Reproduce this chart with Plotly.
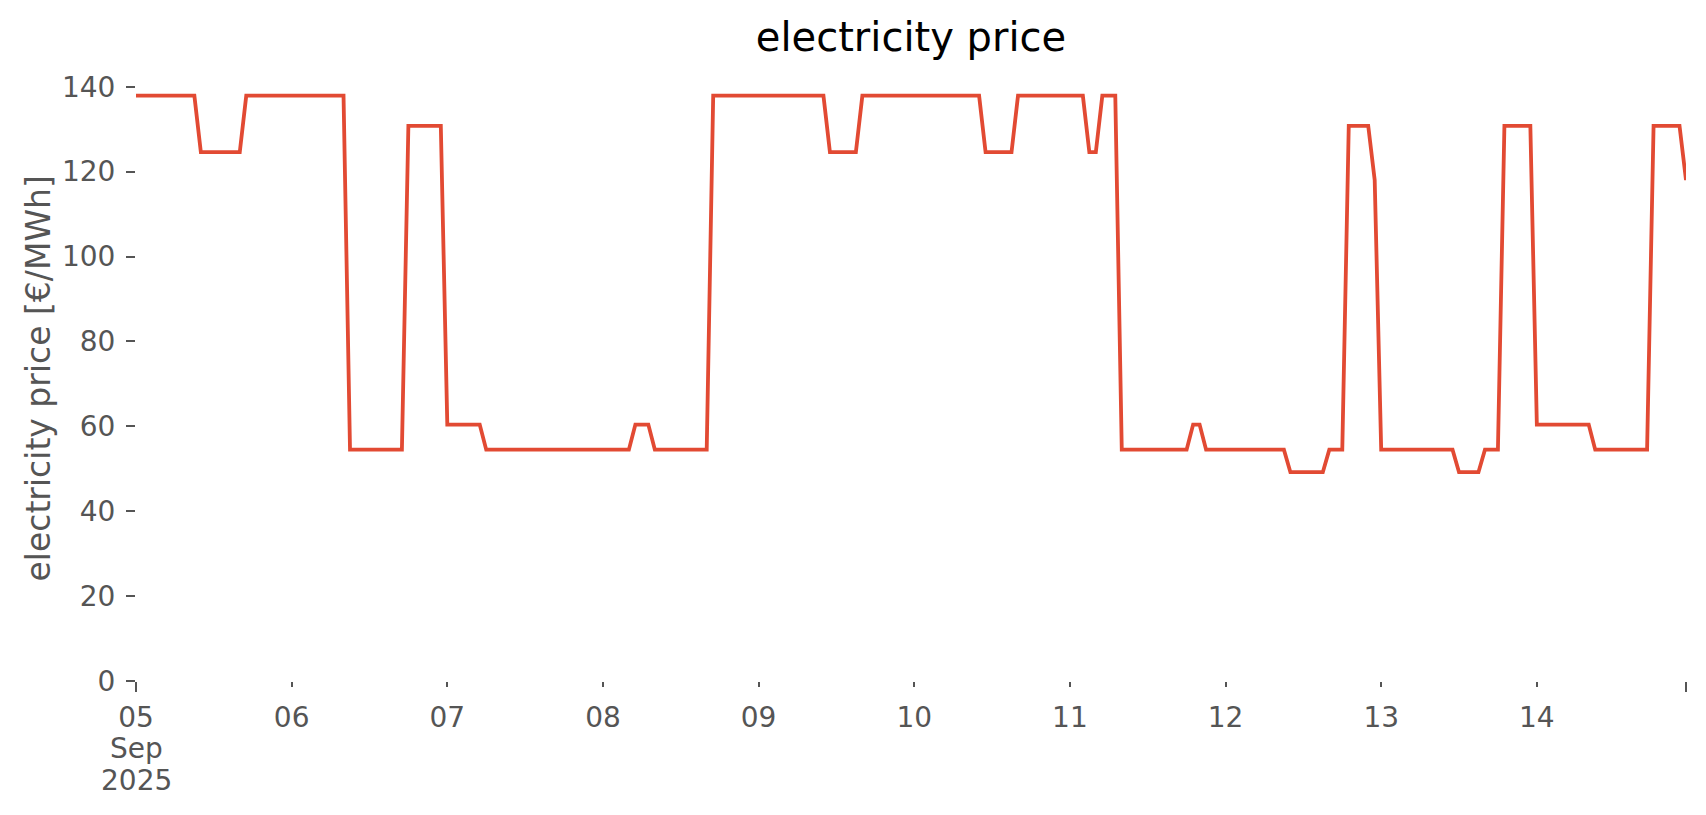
import pandas as pd
import plotly.graph_objects as go

# Hourly day-ahead electricity price [€/MWh], one list per day (00:00 ... 23:00)
day05 = [137.9, 137.9, 137.9, 137.9, 137.9, 137.9, 137.9, 137.9, 137.9, 137.9, 124.6, 124.6,
         124.6, 124.6, 124.6, 124.6, 124.6, 137.9, 137.9, 137.9, 137.9, 137.9, 137.9, 137.9]
day06 = [137.9, 137.9, 137.9, 137.9, 137.9, 137.9, 137.9, 137.9, 137.9, 54.5, 54.5, 54.5,
         54.5, 54.5, 54.5, 54.5, 54.5, 54.5, 130.8, 130.8, 130.8, 130.8, 130.8, 130.8]
day07 = [60.4, 60.4, 60.4, 60.4, 60.4, 60.4, 54.5, 54.5, 54.5, 54.5, 54.5, 54.5,
         54.5, 54.5, 54.5, 54.5, 54.5, 54.5, 54.5, 54.5, 54.5, 54.5, 54.5, 54.5]
day08 = [54.5, 54.5, 54.5, 54.5, 54.5, 60.4, 60.4, 60.4, 54.5, 54.5, 54.5, 54.5,
         54.5, 54.5, 54.5, 54.5, 54.5, 137.9, 137.9, 137.9, 137.9, 137.9, 137.9, 137.9]
day09 = [137.9, 137.9, 137.9, 137.9, 137.9, 137.9, 137.9, 137.9, 137.9, 137.9, 137.9, 124.6,
         124.6, 124.6, 124.6, 124.6, 137.9, 137.9, 137.9, 137.9, 137.9, 137.9, 137.9, 137.9]
day10 = [137.9, 137.9, 137.9, 137.9, 137.9, 137.9, 137.9, 137.9, 137.9, 137.9, 137.9, 124.6,
         124.6, 124.6, 124.6, 124.6, 137.9, 137.9, 137.9, 137.9, 137.9, 137.9, 137.9, 137.9]
day11 = [137.9, 137.9, 137.9, 124.6, 124.6, 137.9, 137.9, 137.9, 54.5, 54.5, 54.5, 54.5,
         54.5, 54.5, 54.5, 54.5, 54.5, 54.5, 54.5, 60.4, 60.4, 54.5, 54.5, 54.5]
day12 = [54.5, 54.5, 54.5, 54.5, 54.5, 54.5, 54.5, 54.5, 54.5, 54.5, 49.2, 49.2,
         49.2, 49.2, 49.2, 49.2, 54.5, 54.5, 54.5, 130.8, 130.8, 130.8, 130.8, 118.0]
day13 = [54.5, 54.5, 54.5, 54.5, 54.5, 54.5, 54.5, 54.5, 54.5, 54.5, 54.5, 54.5,
         49.2, 49.2, 49.2, 49.2, 54.5, 54.5, 54.5, 130.8, 130.8, 130.8, 130.8, 130.8]
day14 = [60.4, 60.4, 60.4, 60.4, 60.4, 60.4, 60.4, 60.4, 60.4, 54.5, 54.5, 54.5,
         54.5, 54.5, 54.5, 54.5, 54.5, 54.5, 130.8, 130.8, 130.8, 130.8, 130.8, 118.0]

price = day05 + day06 + day07 + day08 + day09 + day10 + day11 + day12 + day13 + day14
times = pd.date_range("2025-09-05 00:00", periods=len(price), freq="h")

day_ticks = pd.date_range("2025-09-05", "2025-09-14", freq="D")
day_labels = ["05", "06", "07", "08", "09", "10", "11", "12", "13", "14"]
y_ticks = [0, 20, 40, 60, 80, 100, 120, 140]

FONT = "DejaVu Sans"
GREY = "#555555"
RED = "#E24A33"

fig = go.Figure()
fig.add_trace(go.Scatter(
    x=times, y=price, mode="lines",
    line=dict(color=RED, width=3.8),
    hoverinfo="x+y", showlegend=False,
))

fig.update_layout(
    width=1706, height=815,
    margin=dict(l=136, r=20, t=77, b=134, autoexpand=False),
    paper_bgcolor="white", plot_bgcolor="white",
    font=dict(family=FONT, color=GREY, size=28),
    title=dict(text="electricity price", font=dict(family=FONT, size=40, color="black"),
               x=0.5, xanchor="center", xref="paper",
               y=1 - 37 / 815, yanchor="middle", yref="container"),
)

fig.update_xaxes(
    type="date",
    range=[times[0], times[-1]],
    showgrid=False, zeroline=False, showline=False,
    tickmode="array", tickvals=day_ticks, ticktext=day_labels,
    ticks="outside", ticklen=5, tickwidth=2, tickcolor=GREY,
    tickfont=dict(family=FONT, size=28, color=GREY),
    ticklabelstandoff=6,
    minor=dict(tickmode="array", tickvals=[times[0], times[-1]],
               ticks="outside", ticklen=10, tickwidth=2, tickcolor=GREY, showgrid=False),
)
fig.update_yaxes(
    range=[0, 142.3],
    showgrid=False, zeroline=False, showline=False,
    tickmode="array", tickvals=y_ticks,
    ticks="outside", ticklen=9, tickwidth=2, tickcolor=GREY,
    tickfont=dict(family=FONT, size=28, color=GREY),
    ticklabelstandoff=5,
)

# Month / year lines under the first date label
fig.add_annotation(text="Sep", x=times[0], xref="x", y=-67 / 604, yref="paper",
                   xanchor="center", yanchor="middle", showarrow=False,
                   font=dict(family=FONT, size=28, color=GREY))
fig.add_annotation(text="2025", x=times[0], xref="x", y=-99 / 604, yref="paper",
                   xanchor="center", yanchor="middle", showarrow=False,
                   font=dict(family=FONT, size=28, color=GREY))

# Y axis title
fig.add_annotation(text="electricity price [€/MWh]", x=(37.5 - 136) / 1550, xref="paper",
                   y=0.5, yref="paper", textangle=-90, xanchor="center", yanchor="middle",
                   showarrow=False, font=dict(family=FONT, size=33, color=GREY))

fig.write_html("out.html")
